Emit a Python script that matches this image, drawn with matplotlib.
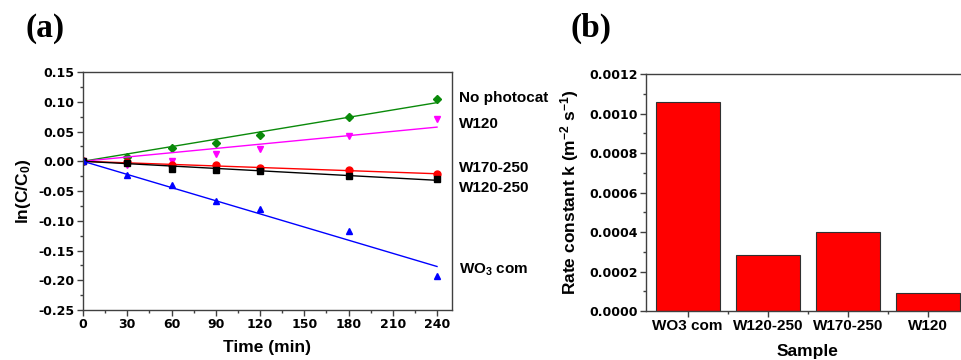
import numpy as np
import matplotlib
matplotlib.use('Agg')
import matplotlib.pyplot as plt
from matplotlib.ticker import MultipleLocator, FixedLocator

plt.rcParams['font.family'] = ['Liberation Sans', 'DejaVu Sans']
plt.rcParams['font.weight'] = 'bold'
plt.rcParams['mathtext.fontset'] = 'custom'
plt.rcParams['mathtext.rm'] = 'Liberation Sans:bold'
plt.rcParams['mathtext.bf'] = 'Liberation Sans:bold'
plt.rcParams['mathtext.default'] = 'bf'

# datos panel (a): ln(C/C0) vs tiempo
t = np.array([0, 30, 60, 90, 120, 180, 240])
no_photocat = np.array([0, 0.008, 0.022, 0.030, 0.044, 0.074, 0.105])
w120 = np.array([0, -0.007, 0.000, 0.012, 0.021, 0.042, 0.071])
w170_250 = np.array([0, -0.002, -0.006, -0.007, -0.012, -0.015, -0.021])
w120_250 = np.array([0, -0.003, -0.013, -0.015, -0.016, -0.025, -0.029])
wo3_com = np.array([0, -0.023, -0.040, -0.067, -0.081, -0.117, -0.193])

# datos panel (b): constante de velocidad
samples = ['WO3 com', 'W120-250', 'W170-250', 'W120']
rate_k = [0.00106, 0.000284, 0.000398, 0.0000896]

series = [
    (no_photocat, 'D', '#0a8a0a', 'No photocat', 0.106, 4.5),
    (w120, 'v', '#ff00ff', 'W120', 0.0625, 5),
    (w170_250, 'o', '#ff0000', 'W170-250', -0.011, 5),
    (w120_250, 's', '#000000', 'W120-250', -0.045, 4.5),
    (wo3_com, '^', '#0000ff', 'WO$_3$ com', -0.183, 5),
]

spine_c = '#404040'
tick_font = dict(family='DejaVu Sans', weight='bold', size=9)

fig = plt.figure(figsize=(9.62, 3.6), dpi=100)
ax1 = fig.add_axes([0.0863, 0.1389, 0.3833, 0.661])
ax2 = fig.add_axes([0.6715, 0.1361, 0.3368, 0.6583])

# ajuste lineal por el origen
tt = np.array([0, 240])
for y, m, c, lab, ly, ms in series:
    k = np.sum(t * y) / np.sum(t * t)
    ax1.plot(tt, k * tt, color=c, lw=1)
    ax1.plot(t, y, linestyle='none', marker=m, color=c, markersize=ms)
    ax1.text(255, ly, lab, fontsize=11, fontweight='bold', va='center',
             ha='left', clip_on=False)

ax1.set_xlim(0, 250)
ax1.set_ylim(-0.25, 0.15)
ax1.xaxis.set_major_locator(FixedLocator([0, 30, 60, 90, 120, 150, 180, 210, 240]))
ax1.xaxis.set_minor_locator(MultipleLocator(15))
ax1.yaxis.set_major_locator(MultipleLocator(0.05))
ax1.yaxis.set_minor_locator(MultipleLocator(0.025))
ax1.set_xticklabels(['0', '30', '60', '90', '120', '150', '180', '210', '240'], **tick_font)
yt = np.arange(-0.25, 0.151, 0.05)
ax1.set_yticks(yt)
ax1.set_yticklabels(['%.2f' % v if abs(v) > 1e-9 else '0.00' for v in yt], **tick_font)
ax1.set_xlabel('Time (min)', fontsize=12.5, fontweight='bold', labelpad=6)
ax1.set_ylabel('ln(C/C$_0$)', fontsize=12.5, fontweight='bold', labelpad=4)

ax2.bar(range(len(samples)), rate_k, width=0.8, color='#ff0000',
        edgecolor='#303030', linewidth=0.8)
ax2.set_xlim(-0.52, 3.52)
ax2.set_ylim(0, 0.0012)
ax2.set_xticks(range(len(samples)))
ax2.set_xticklabels(samples, fontsize=11, fontweight='bold')
ax2.xaxis.set_minor_locator(FixedLocator([0.5, 1.5, 2.5]))
ax2.yaxis.set_major_locator(MultipleLocator(0.0002))
ax2.yaxis.set_minor_locator(MultipleLocator(0.0001))
yt2 = np.arange(0, 0.00121, 0.0002)
ax2.set_yticks(yt2)
ax2.set_yticklabels(['%.4f' % v for v in yt2], **tick_font)
ax2.set_xlabel('Sample', fontsize=12.5, fontweight='bold', labelpad=8)
ax2.set_ylabel('Rate constant k (m$^{-2}$ s$^{-1}$)', fontsize=12.5,
               fontweight='bold', labelpad=6)

for ax in (ax1, ax2):
    for s in ax.spines.values():
        s.set_color(spine_c)
        s.set_linewidth(1)
    ax.tick_params(which='major', direction='out', length=4, width=1,
                   color=spine_c, pad=2)
    ax.tick_params(which='minor', direction='out', length=2, width=1,
                   color=spine_c)

fig.text(0.047, 0.92, '(a)', family='Liberation Serif', fontsize=24,
         fontweight='bold', ha='center', va='center')
fig.text(0.614, 0.92, '(b)', family='Liberation Serif', fontsize=24,
         fontweight='bold', ha='center', va='center')

fig.savefig('out.png', dpi=100)
